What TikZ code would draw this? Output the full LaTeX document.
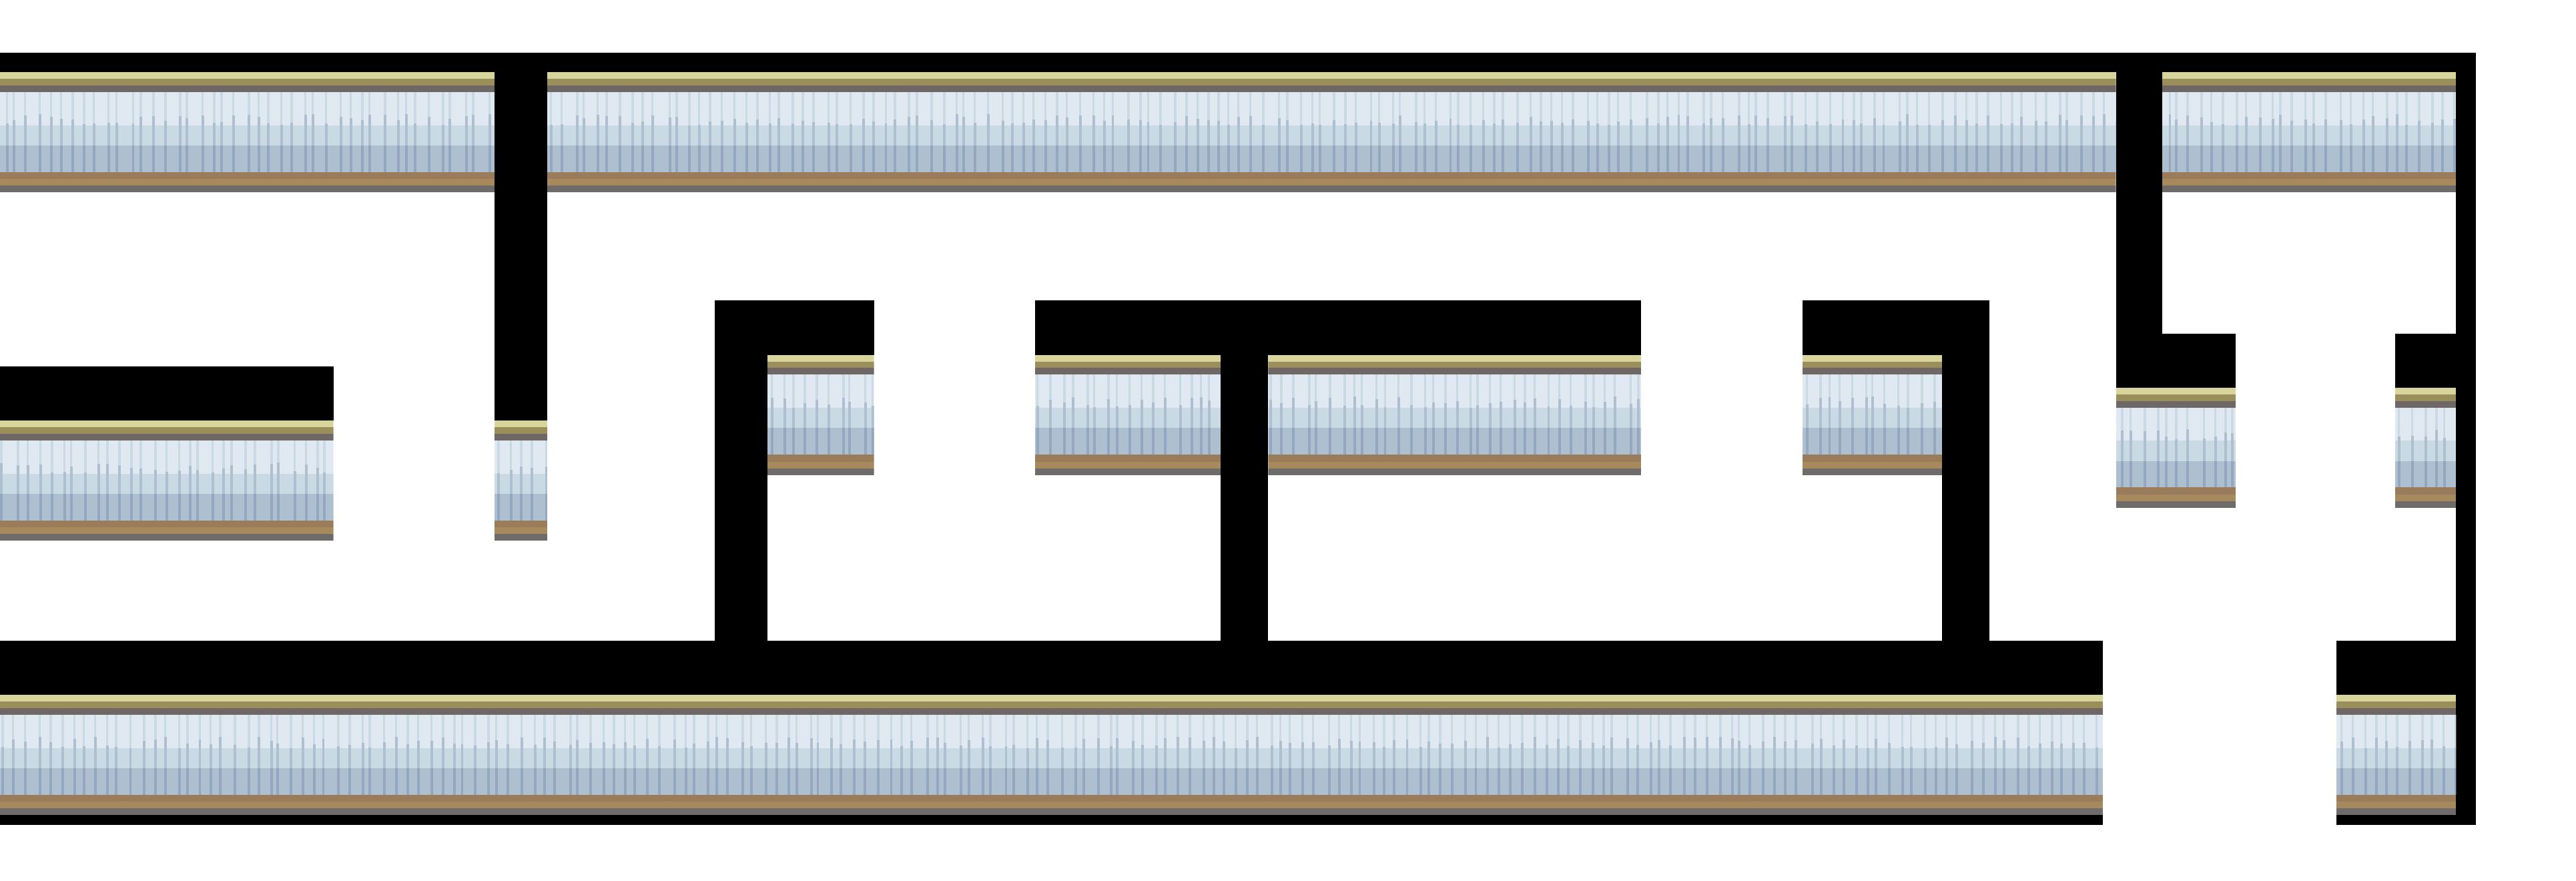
\documentclass[tikz,border=0pt]{standalone}
\usepackage{tikz}
\usetikzlibrary{positioning}

\definecolor{capyellow}{HTML}{D8D59C}
\definecolor{capolive}{HTML}{9A8F5A}
\definecolor{capgray}{HTML}{6F6766}
\definecolor{icelight}{HTML}{E0E9F1}
\definecolor{icemid}{HTML}{CADAE5}
\definecolor{icedark}{HTML}{AEBFCF}
\definecolor{icestreak}{HTML}{94A7C1}
\definecolor{footbrown}{HTML}{9A7B5A}
\definecolor{foottan}{HTML}{A68A5E}
\definecolor{footgray}{HTML}{6F6B6B}

\tikzset{
    wall/.style={fill=black, draw=none},
}

% one strip of ice wall: left x, right x, top y
\newcommand{\walltile}[3]{
    \begin{scope}
        \clip (#1,#3) rectangle (#2,#3+73.1);
        \fill[capyellow] (#1,#3) rectangle (#2,#3+4);
        \fill[capolive] (#1,#3+4) rectangle (#2,#3+8);
        \fill[capgray] (#1,#3+8) rectangle (#2,#3+12);
        \fill[icelight] (#1,#3+12) rectangle (#2,#3+32.3);
        \fill[icemid] (#1,#3+32.3) rectangle (#2,#3+44.5);
        \fill[icedark] (#1,#3+44.5) rectangle (#2,#3+60.7);
        \foreach \xx in {0,7,...,1300} {
            \pgfmathsetmacro{\off}{rnd*4}
            \pgfmathsetmacro{\len}{rnd*14}
            \fill[icemid] (#1+\xx+\off,#3+12) rectangle ++(1.4,20.3);
            \fill[icedark] (#1+\xx+\off,#3+32.3-\len*0.5) rectangle ++(1.6,12.2+\len*0.5);
            \fill[icestreak] (#1+\xx+\off,#3+44.5) rectangle ++(1.6,16.2);
        }
        \fill[footbrown] (#1,#3+60.7) rectangle (#2,#3+64.9);
        \fill[foottan] (#1,#3+64.9) rectangle (#2,#3+69);
        \fill[footgray] (#1,#3+69) rectangle (#2,#3+73.1);
    \end{scope}
}

\begin{document}
\begin{tikzpicture}[x=0.024617cm, y=-0.024617cm]

    \useasboundingbox (0,0) rectangle (1568,536.2);
    \pgfmathsetseed{7}

    % black wall tops
    \path[wall] (0,32) rectangle (1507,44);
    \path[wall] (1495,32) rectangle (1507,502);
    \path[wall] (301,32) rectangle (333,256);
    \path[wall] (1288,32) rectangle (1316,236);
    \path[wall] (1288,203) rectangle (1361,236);
    \path[wall] (1458,203) rectangle (1495,236);
    \path[wall] (0,223) rectangle (203,256);
    \path[wall] (435,183) rectangle (532,216);
    \path[wall] (435,183) rectangle (467,390);
    \path[wall] (630,183) rectangle (999,216);
    \path[wall] (743,183) rectangle (772,390);
    \path[wall] (1097,183) rectangle (1211,216);
    \path[wall] (1182,183) rectangle (1211,390);
    \path[wall] (0,390) rectangle (1280,423);
    \path[wall] (0,490) rectangle (1280,502);
    \path[wall] (1422,390) rectangle (1507,423);
    \path[wall] (1422,490) rectangle (1507,502);

    % wall faces
    \walltile{0}{301}{44}
    \walltile{333}{1288}{44}
    \walltile{1316}{1495}{44}
    \walltile{0}{203}{256}
    \walltile{301}{333}{256}
    \walltile{467}{532}{216}
    \walltile{630}{743}{216}
    \walltile{772}{999}{216}
    \walltile{1097}{1182}{216}
    \walltile{1288}{1361}{236}
    \walltile{1458}{1495}{236}
    \walltile{0}{1280}{423}
    \walltile{1422}{1495}{423}

\end{tikzpicture}
\end{document}
